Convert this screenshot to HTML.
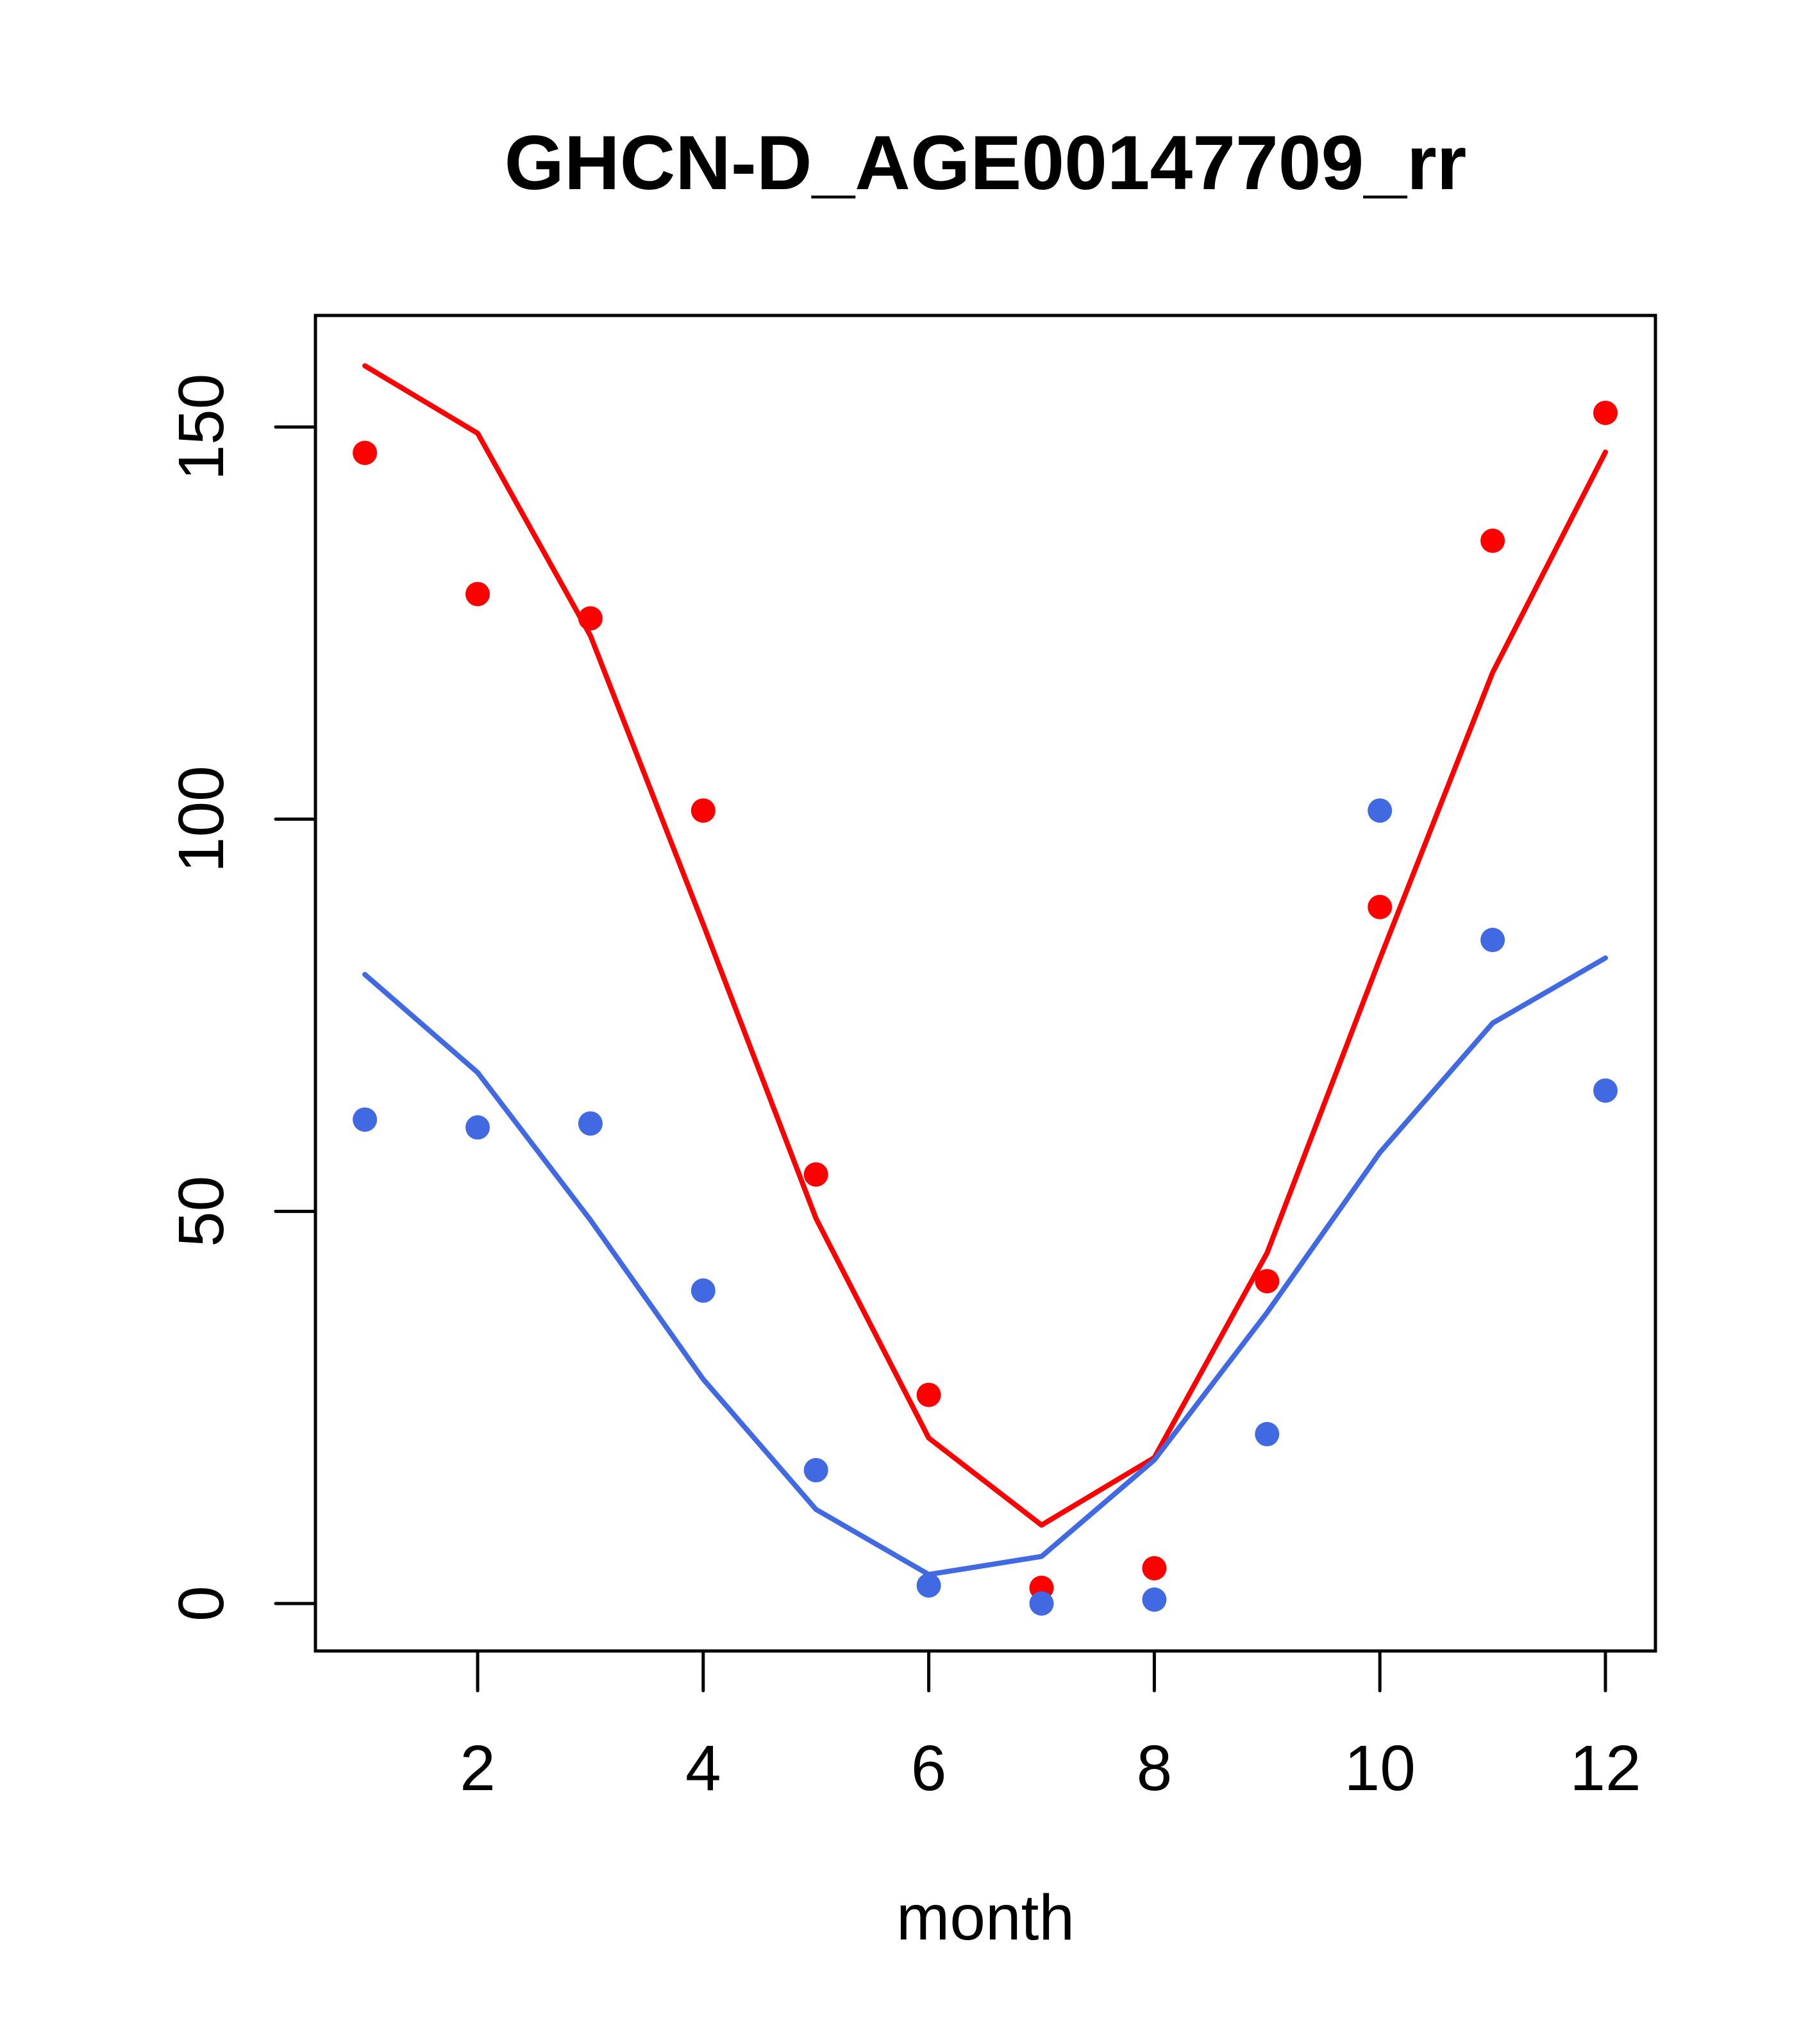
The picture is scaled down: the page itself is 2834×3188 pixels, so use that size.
<!DOCTYPE html>
<html><head><meta charset="utf-8"><style>
html,body{margin:0;padding:0;background:#fff}
svg{display:block}
text{font-family:"Liberation Sans",Arial,sans-serif;fill:#000}
</style></head><body>
<svg id="chart" width="2834" height="3188" viewBox="0 0 2834 3188" xmlns="http://www.w3.org/2000/svg">
<rect width="2834" height="3188" fill="#fff"/>
<text x="1537" y="295" text-anchor="middle" font-size="120" font-weight="bold">GHCN-D_AGE00147709_rr</text>
<rect x="492" y="492" width="2090" height="2083" fill="none" stroke="#000" stroke-width="5"/>
<g id="xaxis"></g>
<g id="yaxis"></g>
<text x="1537" y="3025" text-anchor="middle" font-size="100">month</text>
<g id="series"></g>
</svg>
<script>
const months = [1,2,3,4,5,6,7,8,9,10,11,12];
const redPoints = [146.7,128.7,125.6,101.1,54.7,26.6,2.0,4.5,41.1,88.8,135.5,151.8];
const redLine = [157.8,149.2,123.4,86.6,49.1,21.1,10.0,18.6,44.7,82.2,118.7,146.8];
const bluePoints = [61.7,60.7,61.2,39.9,17.0,2.3,0.0,0.5,21.6,101.1,84.6,65.4];
const blueLine = [80.2,67.7,48.9,28.6,12.0,3.7,6.0,18.3,37.1,57.5,74.0,82.3];
const xTicks = [2,4,6,8,10,12];
const yTicks = [0,50,100,150];

const NS = 'http://www.w3.org/2000/svg';
function xs(m){ return 745 + (m-2)*(2504-745)/10; }
function ys(v){ return 2501 - v*(2501-666)/150; }
function mk(tag, attrs, parent){
  const e = document.createElementNS(NS, tag);
  for (const k in attrs) e.setAttribute(k, attrs[k]);
  parent.appendChild(e); return e;
}
const xa = document.getElementById('xaxis');
xTicks.forEach(t => {
  const l = mk('line', {x1:xs(t), x2:xs(t), y1:2575, y2:2637, stroke:'#000','stroke-width':5,'stroke-linecap':'round'}, xa);
  
  
  const tx = mk('text', {x:xs(t), y:2792, 'text-anchor':'middle','font-size':100}, xa);
  tx.textContent = t;
  
  
});
const ya = document.getElementById('yaxis');
yTicks.forEach(t => {
  const l = mk('line', {x1:430, x2:492, y1:ys(t), y2:ys(t), stroke:'#000','stroke-width':5,'stroke-linecap':'round'}, ya);
  
  
  const tx = mk('text', {x:0, y:0, 'text-anchor':'middle','font-size':100, transform:'translate(348,'+ys(t)+') rotate(-90)'}, ya);
  tx.textContent = t;
  
  
});
const sg = document.getElementById('series');
function drawLine(vals, color, name){
  const p = mk('polyline', {points: vals.map((v,i)=>xs(months[i])+','+ys(v)).join(' '), fill:'none', stroke:color, 'stroke-width':8, 'stroke-linejoin':'round','stroke-linecap':'round'}, sg);
  
  
}
function drawPoints(vals, color, name){
  vals.forEach((v,i) => {
    const c = mk('circle', {cx:xs(months[i]), cy:ys(v), r:19, fill:color}, sg);
    
    
  });
}
drawLine(redLine, '#ff0000', 'red-fit-line');
drawLine(blueLine, '#4169e1', 'blue-fit-line');
drawPoints(redPoints, '#ff0000', 'red-point');
drawPoints(bluePoints, '#4169e1', 'blue-point');
</script>
</body></html>
